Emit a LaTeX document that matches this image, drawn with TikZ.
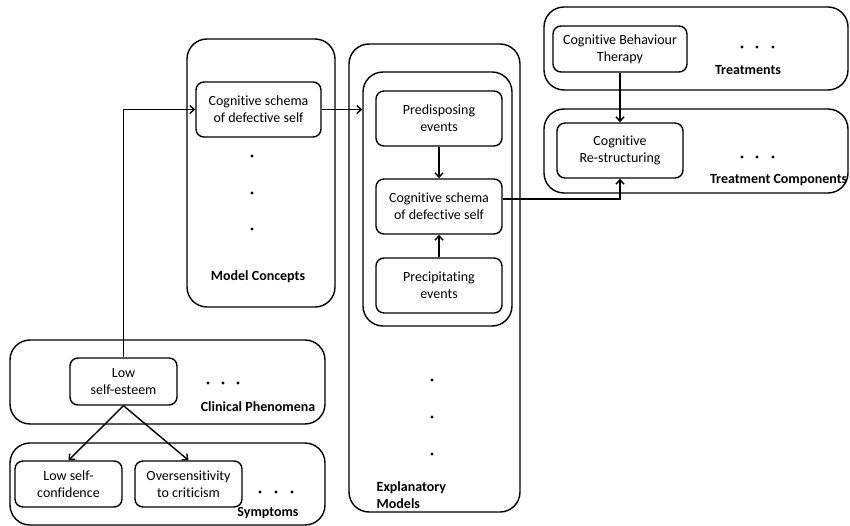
\documentclass[tikz,border=0pt]{standalone}
\usepackage{fontspec}
\setmainfont[Ligatures=NoCommon]{Carlito}
\usetikzlibrary{arrows.meta}
\begin{document}
\begin{tikzpicture}[x=1pt,y=-1pt,
  line width=1.4pt,
  outer/.style={draw,rounded corners=20pt,inner sep=0pt},
  box/.style={draw,rounded corners=8pt,inner sep=0pt,align=center,
    font=\fontsize{14}{16.8}\selectfont},
  lbl/.style={font=\fontsize{14}{16.8}\selectfont\bfseries,inner sep=0pt},
  arr/.style={-{Straight Barb[length=4.5pt,width=8pt,line width=1.4pt]}}]
\useasboundingbox (0,0) rectangle (850,526);
% outer containers
\node[outer,minimum width=148pt,minimum height=268pt] (mc) at (261,173) {};
\node[outer,minimum width=171pt,minimum height=468pt] (em) at (434.5,278) {};
\node[outer,minimum width=149pt,minimum height=254pt] (emin) at (437.5,199) {};
\node[outer,minimum width=304pt,minimum height=83pt] (tr) at (696,48.5) {};
\node[outer,minimum width=304pt,minimum height=84pt] (tc) at (696,151) {};
\node[outer,minimum width=315pt,minimum height=84pt] (cp) at (167.5,382) {};
\node[outer,minimum width=315pt,minimum height=82pt] (sy) at (167.5,484) {};
% inner nodes
\node[box,minimum width=125pt,minimum height=55pt] (cs1) at (258.5,109.5) {Cognitive schema\\of defective self};
\node[box,minimum width=126pt,minimum height=55pt] (pre) at (439,118.5) {Predisposing\\events};
\node[box,minimum width=126pt,minimum height=55pt] (cs2) at (439,206.5) {Cognitive schema\\of defective self};
\node[box,minimum width=126pt,minimum height=55pt] (prec) at (439,285.5) {Precipitating\\events};
\node[box,minimum width=134pt,minimum height=46pt] (cbt) at (620,49) {Cognitive Behaviour\\Therapy};
\node[box,minimum width=126pt,minimum height=55pt] (cr) at (620,150.5) {Cognitive\\Re-structuring};
\node[box,minimum width=107pt,minimum height=47pt] (lse) at (123.5,381.5) {Low\\self-esteem};
\node[box,minimum width=107pt,minimum height=46pt] (lsc) at (68.5,484) {Low self-\\confidence};
\node[box,minimum width=107pt,minimum height=46pt] (ovs) at (188.5,484) {Oversensitivity\\to criticism};
% labels
\node[lbl] (lmc) at (258,277) {Model Concepts};
\node[lbl,anchor=west,align=left] (lem) at (376,495) {Explanatory\\Models};
\node[lbl] (ltr) at (748,70) {Treatments};
\node[lbl,anchor=east] (ltc) at (848,180) {Treatment Components};
\node[lbl] (lcp) at (258,407) {Clinical Phenomena};
\node[lbl] (lsy) at (268,513) {Symptoms};
% dots
\foreach \y in {156,193,229} \fill (252,\y) circle (1.7pt);
\foreach \y in {380,417,454} \fill (432,\y) circle (1.7pt);
\foreach \x in {742,757,773} {\fill (\x,47) circle (1.7pt); \fill (\x,157) circle (1.7pt);}
\foreach \x in {208,223,238} \fill (\x,383) circle (1.7pt);
\foreach \x in {260,276,292} \fill (\x,492) circle (1.7pt);
% connectors
\draw[arr] (lse.north) |- (cs1.west);
\draw[arr] (cs1.east) -- (cs1.east -| emin.west);
\draw[arr] (pre.south) -- (cs2.north);
\draw[arr] (prec.north) -- (cs2.south);
\draw[arr] ([yshift=7.5pt]cs2.east) -| (cr.south);
\draw[arr] (cbt.south) -- (cr.north);
\draw[arr] (lse.south) -- (lsc.north);
\draw[arr] (lse.south) -- (ovs.north);
\end{tikzpicture}
\end{document}
